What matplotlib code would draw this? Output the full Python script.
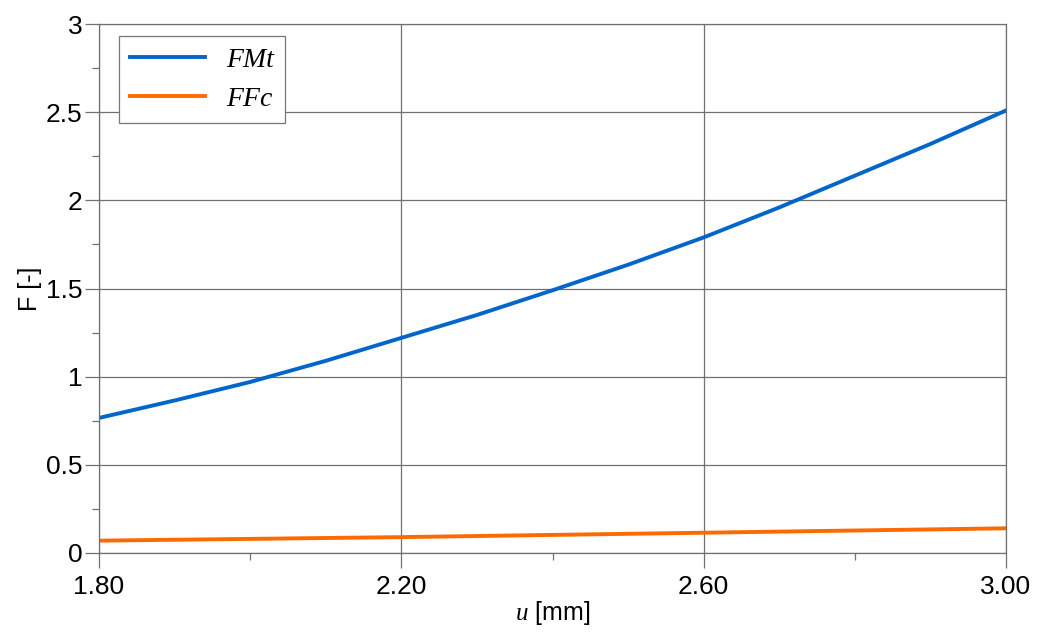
import matplotlib.pyplot as plt
import numpy as np
from matplotlib.ticker import MultipleLocator, FormatStrFormatter

# dados
u_fmt = [1.80, 1.90, 2.00, 2.10, 2.20, 2.30, 2.40, 2.50, 2.60, 2.70, 2.80, 2.90, 3.00]
fmt = [0.766, 0.865, 0.97, 1.09, 1.22, 1.35, 1.49, 1.635, 1.79, 1.96, 2.14, 2.32, 2.51]
u_ffc = [1.80, 2.20, 2.60, 3.00]
ffc = [0.07, 0.09, 0.115, 0.14]
xticks = [1.80, 2.20, 2.60, 3.00]
xminor = [2.00, 2.40, 2.80]
yticks = [0, 0.5, 1, 1.5, 2, 2.5, 3]
ylabels = ['0', '0.5', '1', '1.5', '2', '2.5', '3']

plt.rcParams['font.family'] = 'Liberation Sans'
plt.rcParams['mathtext.fontset'] = 'custom'
plt.rcParams['mathtext.it'] = 'Liberation Serif:italic'
plt.rcParams['mathtext.rm'] = 'Liberation Sans'

fig = plt.figure(figsize=(10.38, 6.33), dpi=100)
ax = fig.add_axes([0.0954, 0.1264, 0.8738, 0.8356])

ax.plot(u_fmt, fmt, color='#0066CC', lw=2.8, label='FMt')
ax.plot(u_ffc, ffc, color='#FF6A00', lw=2.8, label='FFc')

ax.set_xlim(1.8, 3.0)
ax.set_ylim(0, 3)
ax.set_xticks(xticks)
ax.set_xticks(xminor, minor=True)
ax.xaxis.set_major_formatter(FormatStrFormatter('%.2f'))
ax.set_yticks(yticks, ylabels)
ax.yaxis.set_minor_locator(MultipleLocator(0.25))

ax.grid(True, which='major', color='#707070', lw=0.9)
for s in ax.spines.values():
    s.set_color('#707070')
    s.set_linewidth(0.9)
ax.tick_params(axis='x', which='major', length=11, width=0.9, color='#707070', labelsize=19, pad=5)
ax.tick_params(axis='y', which='major', length=10, width=0.9, color='#707070', labelsize=19, pad=2)
ax.tick_params(which='minor', length=5, width=0.9, color='#707070')

ax.set_xlabel(r'$u$ [mm]', fontsize=18, labelpad=0)
ax.set_ylabel('F [-]', fontsize=18, labelpad=3)

leg = ax.legend(loc='upper left', bbox_to_anchor=(0.022, 0.977), borderaxespad=0,
                fancybox=False, edgecolor='#777777', framealpha=1, handlelength=2.7,
                prop={'family': 'Liberation Serif', 'style': 'italic', 'size': 20},
                borderpad=0.4, labelspacing=0.5, handletextpad=0.75)
leg.get_frame().set_linewidth(0.9)

plt.savefig('out.png')
